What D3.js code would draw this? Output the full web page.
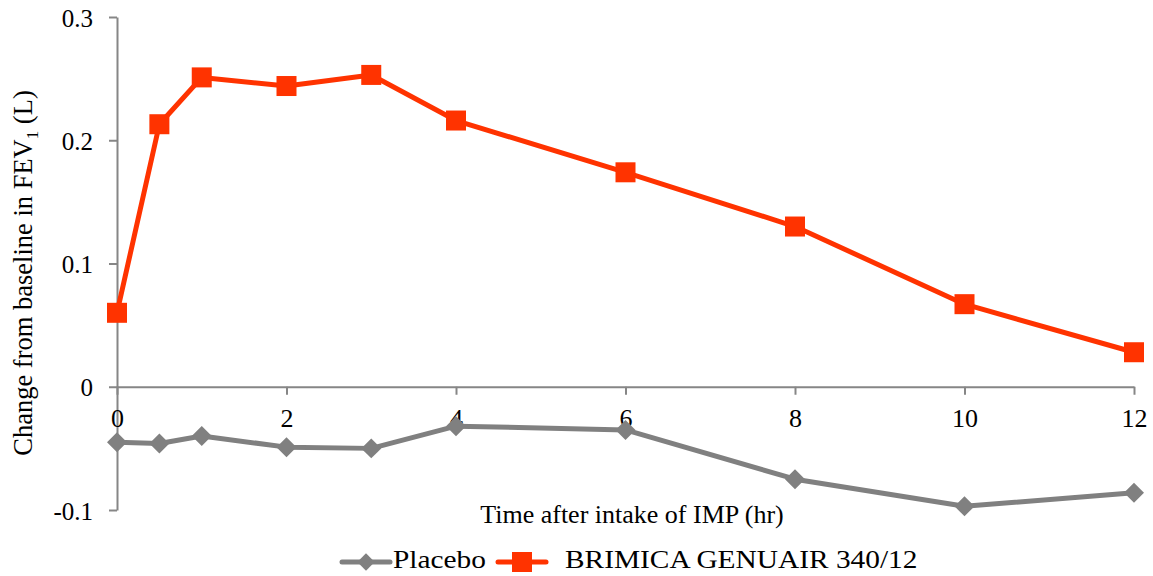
<!DOCTYPE html>
<html>
<head>
<meta charset="utf-8">
<script src="https://cdn.jsdelivr.net/npm/d3@7"></script>
<style>
  body { margin: 0; background: #fff; }
  svg text { font-family: "Liberation Serif", "Times New Roman", serif; fill: #000; }
</style>
</head>
<body>
<div id="chart"></div>
<script>
// time points (hr)
const hours = [0, 0.5, 1, 2, 3, 4, 6, 8, 10, 12];
const placebo = [-0.045, -0.046, -0.040, -0.049, -0.050, -0.032, -0.035, -0.075, -0.097, -0.086];
const brimica = [0.060, 0.213, 0.251, 0.244, 0.253, 0.216, 0.174, 0.130, 0.067, 0.028];
const xTicks = [0, 2, 4, 6, 8, 10, 12];
const yTicks = [-0.1, 0, 0.1, 0.2, 0.3];
const seriesNames = ["Placebo", "BRIMICA GENUAIR 340/12"];

const W = 1153, H = 576;
const margin = { top: 17, right: 19, bottom: 66, left: 117 };
const axisColor = "#868686";

const svg = d3.select("#chart").append("svg")
    .attr("width", W)
    .attr("height", H);

const x = d3.scaleLinear().domain([0, 12]).range([margin.left, W - margin.right]);
const y = d3.scaleLinear().domain([-0.1, 0.3]).range([H - margin.bottom, margin.top]);

// y axis
const yAxis = svg.append("g")
    .attr("transform", `translate(${margin.left},0)`)
    .call(d3.axisLeft(y).tickValues(yTicks).tickSize(8).tickSizeOuter(0)
        .tickFormat(d => d === 0 ? "0" : d.toFixed(1)));
yAxis.select(".domain").attr("stroke", axisColor).attr("stroke-width", 2);
yAxis.selectAll(".tick line").attr("stroke", axisColor).attr("stroke-width", 2);
yAxis.selectAll(".tick text")
    .attr("x", -24)
    .attr("dy", "0.36em")
    .attr("font-size", 25)
    .attr("fill", "#000");

// x axis sitting on the zero line
const xAxis = svg.append("g")
    .attr("transform", `translate(0,${y(0)})`)
    .call(d3.axisBottom(x).tickValues(xTicks).tickSize(8).tickSizeOuter(0));
xAxis.select(".domain").attr("stroke", axisColor).attr("stroke-width", 2);
xAxis.selectAll(".tick line").attr("stroke", axisColor).attr("stroke-width", 2);
xAxis.selectAll(".tick text")
    .attr("y", 40)
    .attr("dy", 0)
    .attr("font-size", 26)
    .attr("fill", "#000");

// axis titles
const yTitle = svg.append("text")
    .attr("transform", `translate(32,273) rotate(-90)`)
    .attr("text-anchor", "middle")
    .attr("font-size", 26.5);
yTitle.append("tspan").text("Change from baseline in FEV");
yTitle.append("tspan").attr("font-size", 17).attr("dy", 6).text("1");
yTitle.append("tspan").attr("dy", -6).text(" (L)");

svg.append("text")
    .attr("x", 632)
    .attr("y", 523)
    .attr("text-anchor", "middle")
    .attr("font-size", 26)
    .text("Time after intake of IMP (hr)");

const line = d3.line().x((d, i) => x(hours[i])).y(d => y(d));

// placebo
svg.append("path").datum(placebo)
    .attr("d", line)
    .attr("fill", "none")
    .attr("stroke", "#808080")
    .attr("stroke-width", 5)
    .attr("stroke-linejoin", "round");
svg.selectAll(".pm").data(placebo).enter().append("path")
    .attr("transform", (d, i) => `translate(${x(hours[i])},${y(d)}) rotate(45)`)
    .attr("d", d3.symbol().type(d3.symbolSquare).size(200))
    .attr("fill", "#808080");

// brimica
svg.append("path").datum(brimica)
    .attr("d", line)
    .attr("fill", "none")
    .attr("stroke", "#ff3300")
    .attr("stroke-width", 5)
    .attr("stroke-linejoin", "round");
svg.selectAll(".bm").data(brimica).enter().append("rect")
    .attr("x", (d, i) => x(hours[i]) - 10)
    .attr("y", d => y(d) - 10)
    .attr("width", 20)
    .attr("height", 20)
    .attr("fill", "#ff3300");

// legend
const legendY = 562;
const leg = [
  { name: seriesNames[0], color: "#808080", x0: 342, tx: 393, shape: "diamond" },
  { name: seriesNames[1], color: "#ff3300", x0: 498, tx: 565, shape: "square" }
];
leg.forEach(l => {
  svg.append("line")
      .attr("x1", l.x0).attr("x2", l.x0 + 48)
      .attr("y1", legendY).attr("y2", legendY)
      .attr("stroke", l.color).attr("stroke-width", 5)
      .attr("stroke-linecap", "round");
  if (l.shape === "diamond") {
    svg.append("path")
        .attr("transform", `translate(${l.x0 + 24},${legendY}) rotate(45)`)
        .attr("d", d3.symbol().type(d3.symbolSquare).size(150))
        .attr("fill", l.color);
  } else {
    svg.append("rect")
        .attr("x", l.x0 + 24 - 10).attr("y", legendY - 10)
        .attr("width", 20).attr("height", 20)
        .attr("fill", l.color);
  }
  // legend text in the reference is a bit stretched horizontally
  svg.append("text")
      .attr("transform", `translate(${l.tx},${legendY + 6}) scale(1.13,1)`)
      .attr("font-size", 26)
      .text(l.name);
});
</script>
</body>
</html>
